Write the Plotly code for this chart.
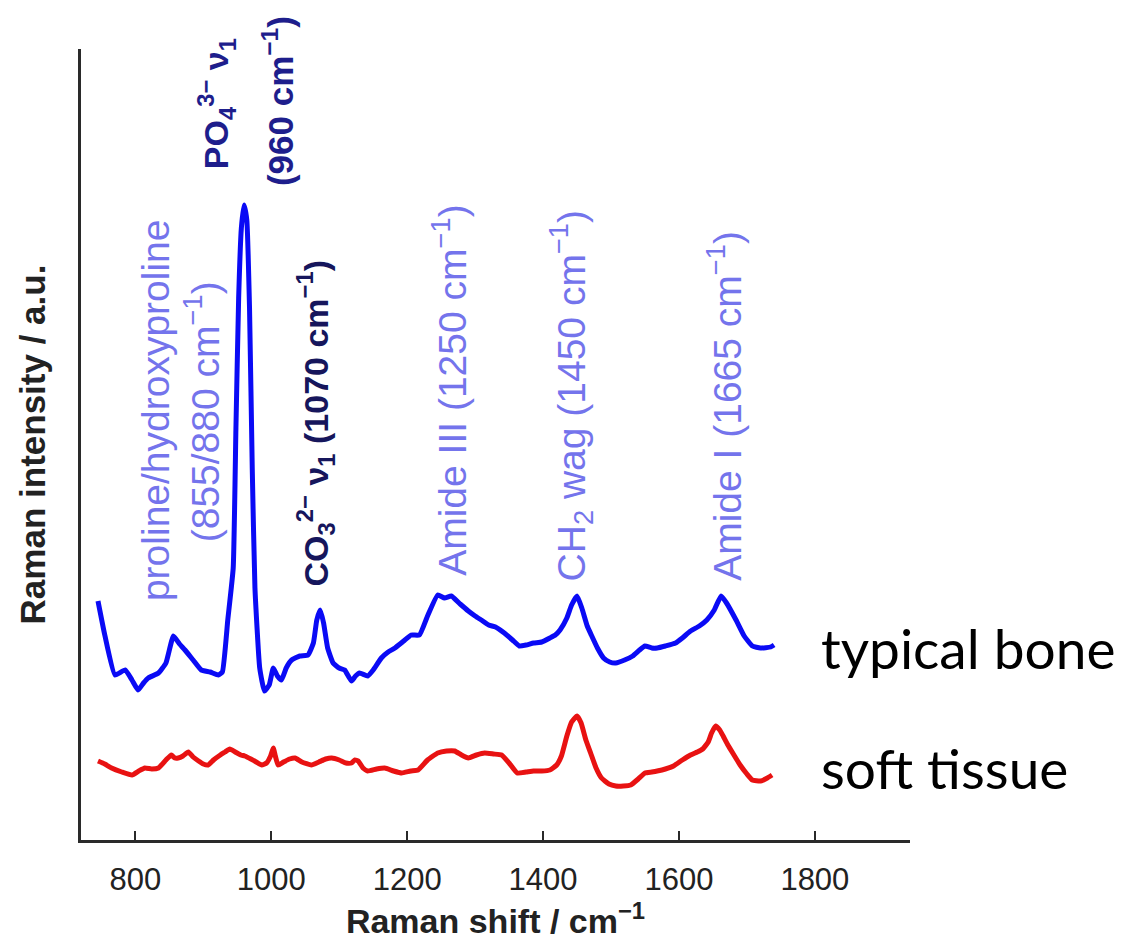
import plotly.graph_objects as go

# Raman shift (cm^-1) and intensity (a.u.)
bone_x = [745, 755, 770, 785, 795, 804, 812, 819, 834, 845, 856, 865, 873, 885, 897, 910, 922, 928,
          936, 944, 948, 952, 956, 960, 964, 968, 972, 976, 983, 990, 997, 1003, 1009, 1015, 1022,
          1030, 1042, 1054, 1062, 1067, 1072, 1077, 1083, 1091, 1100, 1108, 1118, 1124, 1130, 1142,
          1150, 1162, 1172, 1182, 1195, 1206, 1218, 1230, 1245, 1255, 1265, 1278, 1290, 1300, 1309,
          1320, 1330, 1343, 1355, 1365, 1375, 1386, 1398, 1410, 1418, 1425, 1435, 1442, 1450, 1457,
          1465, 1471, 1480, 1489, 1498, 1507, 1520, 1532, 1542, 1550, 1560, 1568, 1580, 1595, 1605,
          1617, 1630, 1641, 1652, 1662, 1670, 1684, 1696, 1708, 1720, 1735, 1740]
bone_y = [23.9, 20.5, 16.5, 17.0, 16.0, 15.0, 15.7, 16.2, 16.7, 17.7, 20.4, 19.6, 19.0, 18.0, 17.0,
          16.8, 16.5, 16.8, 22.0, 27.2, 41.2, 54.2, 61.2, 63.5, 62.0, 53.2, 37.2, 25.2, 17.2, 14.9,
          15.5, 17.2, 16.4, 16.0, 17.2, 18.0, 18.4, 18.5, 19.7, 22.0, 23.0, 21.7, 19.2, 17.7, 17.2,
          17.0, 15.9, 16.4, 16.7, 16.4, 17.0, 18.2, 18.8, 19.2, 19.9, 20.5, 20.5, 22.4, 24.5, 24.2,
          24.4, 23.6, 22.9, 22.4, 22.0, 21.5, 21.3, 20.7, 20.0, 19.4, 19.5, 19.7, 19.8, 20.2, 20.5,
          21.0, 22.2, 23.5, 24.4, 23.2, 21.4, 20.5, 19.2, 18.2, 17.8, 17.7, 18.0, 18.4, 19.0, 19.4,
          19.2, 19.2, 19.4, 19.7, 20.2, 20.9, 21.4, 22.0, 23.0, 24.4, 23.7, 22.0, 20.4, 19.4, 19.2,
          19.3, 19.5]

soft_x = [745, 755, 765, 780, 795, 805, 814, 824, 834, 845, 853, 858, 863, 870, 878, 885, 893, 900,
          907, 915, 925, 932, 939, 947, 955, 961, 970, 978, 986, 993, 999, 1003, 1006, 1010, 1018,
          1027, 1035, 1045, 1059, 1070, 1080, 1089, 1100, 1110, 1118, 1123, 1128, 1135, 1142, 1155,
          1167, 1180, 1192, 1205, 1216, 1230, 1245, 1258, 1270, 1280, 1290, 1302, 1314, 1327, 1339,
          1350, 1362, 1375, 1386, 1398, 1410, 1420, 1427, 1435, 1442, 1450, 1456, 1463, 1470, 1478,
          1486, 1497, 1507, 1518, 1529, 1540, 1550, 1560, 1568, 1580, 1592, 1605, 1617, 1627, 1635,
          1643, 1648, 1654, 1660, 1665, 1672, 1680, 1690, 1700, 1708, 1720, 1730, 1737]
soft_y = [7.9, 7.6, 7.2, 6.8, 6.5, 6.9, 7.2, 7.1, 7.2, 8.0, 8.5, 8.2, 8.2, 8.4, 8.8, 8.3, 7.9, 7.6,
          7.5, 8.0, 8.5, 8.8, 9.1, 8.8, 8.5, 8.4, 8.1, 7.8, 7.5, 7.7, 8.4, 9.2, 8.4, 7.5, 7.8, 8.1,
          8.2, 7.8, 7.5, 7.8, 8.1, 8.2, 8.0, 7.7, 7.7, 8.0, 7.9, 7.2, 6.9, 7.1, 7.2, 6.9, 6.7, 6.9,
          7.0, 8.0, 8.7, 8.9, 8.9, 8.5, 8.2, 8.5, 8.7, 8.6, 8.5, 7.7, 6.7, 6.8, 6.9, 6.9, 7.0, 7.5,
          8.4, 10.4, 11.8, 12.4, 11.7, 10.0, 8.7, 7.2, 6.2, 5.6, 5.4, 5.4, 5.5, 6.1, 6.7, 6.8, 6.9,
          7.1, 7.4, 8.0, 8.5, 8.8, 9.1, 9.8, 10.7, 11.4, 11.0, 10.4, 9.5, 8.6, 7.5, 6.6, 6.0, 5.9,
          6.2, 6.5]

x_ticks = [800, 1000, 1200, 1400, 1600, 1800]
series_names = ["typical bone", "soft tissue"]

light = "#7474ec"
ann_font = "Liberation Sans, Arial, sans-serif"

fig = go.Figure()
fig.add_trace(go.Scatter(x=bone_x, y=bone_y, mode="lines", name=series_names[0],
                         line=dict(color="#0a0af5", width=5, shape="spline", smoothing=0.4)))
fig.add_trace(go.Scatter(x=soft_x, y=soft_y, mode="lines", name=series_names[1],
                         line=dict(color="#e81212", width=5, shape="spline", smoothing=0.4)))

def rot(text, x, y, color, size, yanchor="bottom", bold=False):
    fig.add_annotation(x=x, y=y, xref="x", yref="y", text=f"<b>{text}</b>" if bold else text,
                       textangle=-90, showarrow=False, xanchor="center", yanchor=yanchor,
                       font=dict(family=ann_font, size=size, color=color))

rot("proline/hydroxyproline", 829, 23.7, light, 39)
rot("(855/880 cm<sup>−1</sup>)", 897, 42.8, light, 39, yanchor="middle")
rot("PO<sub>4</sub><sup>3−</sup> ν<sub>1</sub>", 919, 73.6, "#1e1e8c", 34, yanchor="middle", bold=True)
rot("(960 cm<sup>−1</sup>)", 1010, 73.9, "#1e1e8c", 35, yanchor="middle", bold=True)
rot("CO<sub>3</sub><sup>2−</sup> ν<sub>1</sub> (1070 cm<sup>−1</sup>)", 1065, 25.2, "#16165c", 34, bold=True)
rot("Amide III (1250 cm<sup>−1</sup>)", 1262, 26.2, light, 39)
rot("CH<sub>2</sub> wag (1450 cm<sup>−1</sup>)", 1441, 25.7, light, 39)
rot("Amide I (1665 cm<sup>−1</sup>)", 1666, 25.7, light, 39)

fig.add_annotation(x=1806, y=19.2, xref="x", yref="y", text=series_names[0], showarrow=False,
                   xanchor="left", yanchor="middle", font=dict(family="Lato, Open Sans, sans-serif", size=55, color="#000"))
fig.add_annotation(x=1806, y=7.2, xref="x", yref="y", text=series_names[1], showarrow=False,
                   xanchor="left", yanchor="middle", font=dict(family="Lato, Open Sans, sans-serif", size=55, color="#000"))

fig.update_layout(
    width=1130, height=943,
    margin=dict(l=73, r=228, t=41, b=111),
    paper_bgcolor="white", plot_bgcolor="white",
    showlegend=False,
    xaxis=dict(range=[720, 1940], tickvals=x_ticks, ticks="inside", ticklen=9, tickwidth=2,
               tickcolor="#2a2a2a", showline=True, linecolor="#2a2a2a", linewidth=3,
               showgrid=False, zeroline=False,
               tickfont=dict(family="Liberation Sans, Arial, sans-serif", size=31, color="#222"),
               ticklabelstandoff=10,
               title=dict(text="<b>Raman shift / cm<sup>−1</sup></b>", standoff=6,
                          font=dict(family="Liberation Sans, Arial, sans-serif", size=34, color="#222"))),
    yaxis=dict(range=[0, 79.1], showticklabels=False, ticks="", showline=True, linecolor="#2a2a2a",
               linewidth=3, showgrid=False, zeroline=False,
               title=dict(text="<b>Raman intensity / a.u.</b>", standoff=22,
                          font=dict(family="Liberation Sans, Arial, sans-serif", size=35, color="#222"))),
)

fig.write_html("out.html")
